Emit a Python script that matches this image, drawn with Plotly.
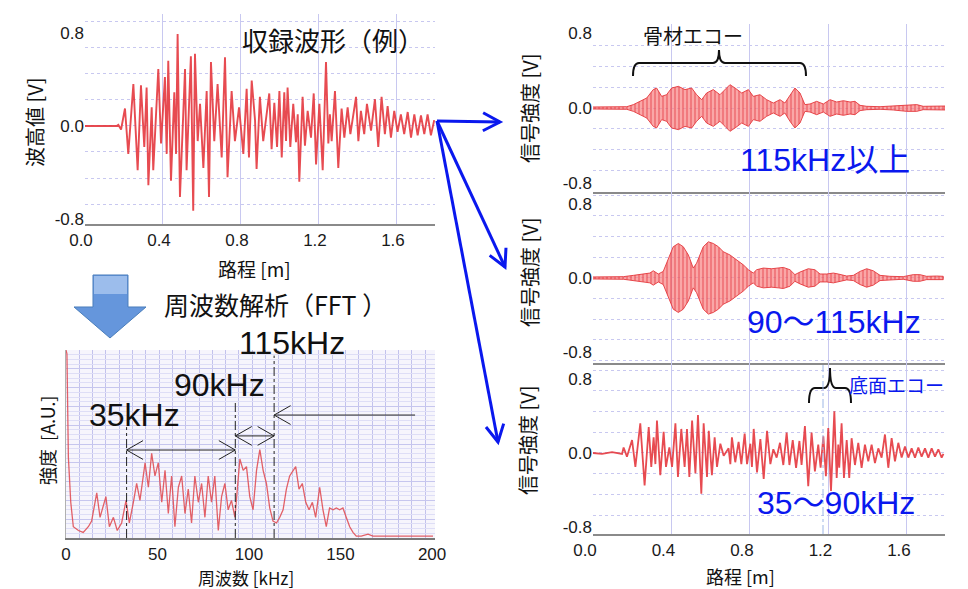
import math
import plotly.graph_objects as go

# ---------------- data ----------------
# recorded waveform (extrema), path [m] / amplitude [V]
rec_path_m = [0.0, 0.162, 0.171, 0.185, 0.205, 0.222, 0.248, 0.270, 0.287, 0.304, 0.316, 0.325, 0.342, 0.350,
              0.376, 0.390, 0.410, 0.419, 0.427, 0.441, 0.458, 0.467, 0.475, 0.487, 0.513, 0.521, 0.543, 0.555,
              0.564, 0.578, 0.590, 0.607, 0.624, 0.636, 0.646, 0.663, 0.680, 0.701, 0.718, 0.731, 0.752, 0.769,
              0.790, 0.812, 0.829, 0.841, 0.855, 0.872, 0.880, 0.897, 0.914, 0.945, 0.957, 0.971, 0.985, 0.997,
              1.009, 1.022, 1.031, 1.039, 1.053, 1.068, 1.082, 1.091, 1.099, 1.116, 1.128, 1.142, 1.159, 1.173,
              1.185, 1.202, 1.219, 1.236, 1.248, 1.256, 1.265, 1.282, 1.299, 1.316, 1.330, 1.347, 1.361, 1.390,
              1.402, 1.415, 1.432, 1.446, 1.467, 1.487, 1.504, 1.521, 1.538, 1.552, 1.569, 1.586, 1.603, 1.620,
              1.637, 1.655, 1.672, 1.689, 1.706, 1.723, 1.740, 1.757, 1.774, 1.791]
rec_amp_v = [0.0, 0.0, 0.01, -0.03, 0.15, -0.24, 0.36, -0.38, 0.35, -0.18, 0.33, -0.51, 0.16, -0.38,
             0.49, -0.15, 0.42, -0.24, 0.56, -0.47, 0.29, -0.24, 0.79, -0.61, 0.49, -0.38, 0.60, -0.73,
             0.62, -0.13, 0.19, -0.36, 0.30, -0.61, 0.55, -0.13, 0.36, -0.27, 0.59, -0.44, 0.30, -0.13,
             0.16, -0.24, 0.32, -0.27, 0.39, 0.05, -0.37, 0.25, -0.13, 0.28, -0.20, 0.20, -0.18, 0.30,
             -0.27, 0.29, -0.13, 0.33, -0.18, 0.19, -0.14, 0.10, -0.48, 0.25, -0.17, 0.13, -0.10, 0.28,
             -0.33, 0.19, -0.38, 0.55, -0.15, 0.10, -0.13, 0.30, -0.36, 0.15, -0.10, 0.16, -0.07, 0.25,
             -0.13, 0.13, -0.07, 0.19, -0.04, 0.23, -0.18, 0.25, -0.07, 0.17, -0.10, 0.13, -0.05, 0.10,
             -0.07, 0.12, -0.10, 0.10, -0.08, 0.09, -0.07, 0.10, -0.08, 0.05]

# FFT spectrum, frequency [kHz] / intensity [A.U.]
fft_khz = [0.0, 0.5, 1.3, 2.6, 4.0, 6.8, 9.4, 12.2, 14.0, 16.8, 18.6, 21.8, 23.7, 25.9, 28.0, 30.4, 32.8, 34.6,
           36.8, 38.6, 40.4, 43.2, 45.0, 46.8, 48.6, 50.4, 52.3, 54.1, 55.9, 57.7, 59.5, 61.4, 63.2, 65.0, 66.8,
           68.6, 70.4, 72.3, 74.1, 75.9, 77.7, 79.5, 81.3, 83.2, 85.0, 86.8, 88.6, 90.4, 92.3, 95.0, 96.8, 98.6,
           100.4, 102.2, 104.1, 105.9, 107.7, 109.5, 111.3, 113.1, 115.0, 116.8, 118.6, 120.4, 122.2, 124.0,
           125.5, 127.3, 129.1, 131.0, 132.8, 134.6, 136.4, 138.6, 140.4, 142.2, 144.0, 145.9, 147.7, 149.5,
           151.3, 153.1, 155.0, 156.8, 158.6, 161.3, 165.0, 167.7, 182.3, 200.5]
fft_amp = [1.0, 0.98, 0.43, 0.19, 0.06, 0.04, 0.03, 0.06, 0.09, 0.24, 0.11, 0.22, 0.06, 0.11, 0.04, 0.08, 0.20, 0.08,
           0.19, 0.29, 0.20, 0.40, 0.27, 0.45, 0.33, 0.40, 0.19, 0.36, 0.13, 0.33, 0.06, 0.27, 0.33, 0.13, 0.26,
           0.08, 0.33, 0.19, 0.29, 0.11, 0.33, 0.19, 0.33, 0.04, 0.22, 0.29, 0.15, 0.20, 0.11, 0.42, 0.36, 0.38,
           0.22, 0.15, 0.36, 0.47, 0.36, 0.29, 0.16, 0.09, 0.08, 0.11, 0.15, 0.26, 0.33, 0.36,
           0.38, 0.26, 0.29, 0.19, 0.15, 0.19, 0.11, 0.27, 0.15, 0.06, 0.16, 0.15, 0.16, 0.15,
           0.16, 0.11, 0.06, 0.03, 0.01, 0.01, 0.02, 0.01, 0.01, 0.01]
band_edges_khz = [33.1, 92.5, 113.7]
band_labels = ["35kHz", "90kHz", "115kHz"]

# filtered signal envelopes (>=115 kHz and 90-115 kHz), path [m] / envelope [V]
env_hi_m = [0.0, 0.172, 0.206, 0.240, 0.274, 0.307, 0.324, 0.350, 0.375, 0.401, 0.435, 0.469, 0.503, 0.528, 0.554,
            0.579, 0.613, 0.647, 0.673, 0.698, 0.724, 0.758, 0.792, 0.817, 0.851, 0.885, 0.919, 0.953, 0.978, 1.004,
            1.029, 1.055, 1.080, 1.106, 1.140, 1.174, 1.208, 1.242, 1.276, 1.310, 1.335, 1.361, 1.395, 1.463, 1.530,
            1.599, 1.650, 1.683, 1.734, 1.794]
env_hi_v = [0.011, 0.014, 0.036, 0.071, 0.107, 0.196, 0.213, 0.124, 0.142, 0.213, 0.231, 0.196, 0.213, 0.142, 0.089,
            0.160, 0.196, 0.142, 0.196, 0.249, 0.213, 0.160, 0.196, 0.124, 0.142, 0.089, 0.053, 0.089, 0.053, 0.142,
            0.213, 0.160, 0.036, 0.043, 0.071, 0.043, 0.089, 0.064, 0.078, 0.064, 0.071, 0.028, 0.018, 0.014, 0.021,
            0.036, 0.036, 0.018, 0.018, 0.021]
env_mid_m = [0.0, 0.155, 0.206, 0.290, 0.307, 0.333, 0.358, 0.384, 0.409, 0.435, 0.460, 0.486, 0.511, 0.528, 0.562,
             0.588, 0.613, 0.639, 0.664, 0.698, 0.732, 0.766, 0.792, 0.817, 0.834, 0.868, 0.911, 0.944, 0.970, 1.004,
             1.029, 1.055, 1.097, 1.131, 1.157, 1.191, 1.225, 1.250, 1.293, 1.327, 1.361, 1.395, 1.428, 1.463, 1.513,
             1.581, 1.632, 1.666, 1.700, 1.752, 1.785]
env_mid_v = [0.011, 0.014, 0.028, 0.053, 0.078, 0.043, 0.071, 0.213, 0.338, 0.373, 0.338, 0.249, 0.107, 0.160, 0.338,
             0.391, 0.373, 0.338, 0.284, 0.249, 0.196, 0.142, 0.089, 0.053, 0.089, 0.107, 0.100, 0.107, 0.114, 0.089,
             0.036, 0.064, 0.100, 0.089, 0.043, 0.043, 0.053, 0.043, 0.021, 0.028, 0.071, 0.100, 0.078, 0.028, 0.018,
             0.014, 0.036, 0.036, 0.018, 0.021, 0.018]

# filtered signal 35-90 kHz (extrema), path [m] / amplitude [V]
low_path_m = [0.0, 0.046, 0.097, 0.148, 0.156, 0.173, 0.199, 0.216, 0.241, 0.263, 0.284, 0.297, 0.309, 0.318, 0.326,
              0.343, 0.360, 0.372, 0.389, 0.403, 0.420, 0.433, 0.450, 0.467, 0.479, 0.491, 0.505, 0.522, 0.535, 0.552,
              0.564, 0.581, 0.590, 0.606, 0.620, 0.632, 0.649, 0.666, 0.691, 0.700, 0.708, 0.725, 0.742, 0.756, 0.773,
              0.785, 0.802, 0.810, 0.819, 0.836, 0.853, 0.870, 0.887, 0.904, 0.919, 0.936, 0.953, 0.970, 0.987, 1.001,
              1.018, 1.035, 1.052, 1.063, 1.080, 1.097, 1.114, 1.131, 1.148, 1.160, 1.174, 1.187, 1.199, 1.213, 1.230,
              1.242, 1.250, 1.255, 1.267, 1.279, 1.293, 1.306, 1.318, 1.335, 1.352, 1.369, 1.386, 1.403, 1.420, 1.437,
              1.454, 1.471, 1.488, 1.505, 1.522, 1.539, 1.556, 1.573, 1.590, 1.607, 1.624, 1.641, 1.658, 1.675, 1.692,
              1.709, 1.726, 1.743, 1.760, 1.777, 1.786]
low_amp_v = [0.0, -0.01, 0.01, -0.01, 0.06, -0.04, 0.14, -0.15, 0.32, -0.35, 0.28, -0.15, 0.17, -0.12, 0.35,
             -0.24, 0.23, -0.15, 0.06, -0.15, 0.32, -0.26, 0.26, -0.15, 0.26, -0.26, 0.35, -0.22, 0.41, -0.44,
             0.32, -0.26, 0.24, -0.24, 0.17, -0.15, 0.10, -0.03, 0.05, -0.12, 0.17, -0.10, 0.12, -0.12, 0.21,
             -0.12, 0.10, -0.15, 0.26, -0.21, 0.15, -0.28, 0.24, -0.12, 0.04, -0.05, 0.11, -0.13, 0.22, -0.13,
             0.14, -0.16, 0.13, -0.13, 0.29, -0.36, 0.22, -0.20, 0.09, -0.16, 0.18, -0.25, 0.27, -0.41, 0.45,
             -0.27, 0.09, -0.16, 0.32, -0.27, 0.14, -0.27, 0.16, -0.13, 0.11, -0.16, 0.09, -0.09, 0.09, -0.11,
             0.05, -0.05, 0.20, -0.16, 0.16, -0.09, 0.11, -0.05, 0.07, -0.05, 0.05, -0.05, 0.06, -0.04, 0.05,
             -0.05, 0.05, -0.04, 0.04, -0.05, -0.01]

path_ticks = [0.0, 0.4, 0.8, 1.2, 1.6]
path_ticktext = ["0.0", "0.4", "0.8", "1.2", "1.6"]
volt_ticks = [-0.8, 0.0, 0.8]
volt_ticktext = ["-0.8", "0.0", "0.8"]
freq_ticks = [0, 50, 100, 150, 200]

# ---------------- helpers ----------------
W, H = 968, 589
JP = "Noto Sans CJK JP"
LAT = "Liberation Sans, Noto Sans CJK JP"


def PX(x):
    return x / W


def PY(y):
    return 1 - y / H


def pth(points, close=False):
    s = "M " + " L ".join(f"{PX(x):.5f},{PY(y):.5f}" for x, y in points)
    return s + (" Z" if close else "")


fig = go.Figure()

RED = "rgba(228,55,62,0.9)"
fig.add_trace(go.Scatter(x=rec_path_m, y=rec_amp_v, xaxis="x", yaxis="y", mode="lines",
                         line=dict(color=RED, width=1.9), hoverinfo="skip"))
fig.add_trace(go.Scatter(x=fft_khz, y=fft_amp, xaxis="x2", yaxis="y2", mode="lines",
                         line=dict(color="rgba(224,80,86,0.9)", width=1.3), hoverinfo="skip"))


def env_trace(xm, v, xa, ya):
    xs = list(xm) + list(xm)[::-1]
    ys = list(v) + [-a for a in list(v)[::-1]]
    return go.Scatter(x=xs, y=ys, xaxis=xa, yaxis=ya, mode="lines", fill="toself",
                      fillcolor="rgba(245,110,110,0.75)",
                      fillpattern=dict(shape="|", fgcolor="rgba(225,35,45,0.85)",
                                       bgcolor="rgba(248,130,130,0.7)", size=4, solidity=0.4),
                      line=dict(color="rgba(228,55,60,0.9)", width=1), hoverinfo="skip")


fig.add_trace(env_trace(env_hi_m, env_hi_v, "x3", "y3"))
fig.add_trace(env_trace(env_mid_m, env_mid_v, "x4", "y4"))
fig.add_trace(go.Scatter(x=low_path_m, y=low_amp_v, xaxis="x5", yaxis="y5", mode="lines",
                         line=dict(color=RED, width=1.8), hoverinfo="skip"))

GRID = "#c8c8f0"
tickfont = dict(family=LAT, size=17, color="#1a1a1a")


def path_axis(x0, x1, anchor, rng, labels=True, shift=0):
    d = dict(domain=[PX(x0), PX(x1)], range=rng, anchor=anchor, tickmode="array",
             tickvals=path_ticks, ticktext=path_ticktext, showticklabels=labels,
             showgrid=True, gridcolor=GRID, gridwidth=1, zeroline=False,
             showline=True, linecolor="#8a8a8a", linewidth=2, ticks="", tickfont=tickfont)
    if shift:
        d["ticklabelshift"] = shift
    return d


def volt_axis(top, bottom, anchor, rng):
    return dict(domain=[PY(bottom), PY(top)], range=rng, anchor=anchor, tickmode="array",
                tickvals=volt_ticks, ticktext=volt_ticktext, showgrid=False, zeroline=False,
                showline=False, ticks="", tickfont=tickfont,
                minor=dict(tick0=0, dtick=0.2237, showgrid=True, gridcolor=GRID, griddash="dot", ticks=""))


layout = dict(
    width=W, height=H, margin=dict(l=0, r=0, t=0, b=0, autoexpand=False),
    paper_bgcolor="white", plot_bgcolor="white", showlegend=False,
    font=dict(family=JP, color="#111"),
    xaxis=path_axis(85, 435, "y", [0, 1.795], shift=-4),
    yaxis=volt_axis(14, 224, "x", [-0.843, 0.963]),
    xaxis2=dict(domain=[PX(66), PX(435)], range=[0, 201.6], anchor="y2", tickmode="array",
                tickvals=freq_ticks, showgrid=False, zeroline=False, showline=True,
                linecolor="#7a7a7a", linewidth=2, ticks="", tickfont=dict(family=LAT, size=17, color="#1a1a1a"),
                minor=dict(tick0=0, dtick=7.27, showgrid=True, gridcolor="#c2c2ec", ticks="")),
    yaxis2=dict(domain=[PY(538), PY(350)], range=[0, 1.0], anchor="x2", showticklabels=False,
                dtick=0.1, showgrid=True, gridcolor="#c6c6ee", zeroline=False, showline=True,
                linecolor="#b0b0b0", linewidth=1, ticks="",
                minor=dict(dtick=0.025, showgrid=True, gridcolor="#dedef6", ticks="")),
    xaxis3=path_axis(593, 945, "y3", [0, 1.794], labels=False),
    yaxis3=volt_axis(24, 192, "x3", [-0.896, 0.896]),
    xaxis4=path_axis(593, 945, "y4", [0, 1.794], labels=False),
    yaxis4=volt_axis(192, 363, "x4", [-0.92, 0.93]),
    xaxis5=path_axis(593, 945, "y5", [0, 1.794], shift=-8),
    yaxis5=volt_axis(363, 534, "x5", [-0.876, 0.973]),
)
fig.update_layout(**layout)

shapes = []
# tinted background of the spectrum plot
shapes.append(dict(type="rect", xref="x2 domain", yref="y2 domain", x0=0, x1=1, y0=0, y1=1,
                   fillcolor="#f6f5fc", line=dict(width=0), layer="below"))

# band boundary dash-dot lines
band_tops = [0.59, 0.73, 0.97]
for xk, yt in zip(band_edges_khz, band_tops):
    shapes.append(dict(type="line", xref="x2", yref="y2", x0=xk, x1=xk, y0=0, y1=yt,
                       line=dict(color="#222", width=1, dash="dashdot")))


def khz_head(xk, ya, direction):
    # open V arrow head in spectrum data coords, direction=-1 points left, +1 points right
    dx, dy = 9.0, 0.05
    return dict(type="path", xref="x2", yref="y2",
                path=f"M {xk - direction * dx},{ya + dy} L {xk},{ya} L {xk - direction * dx},{ya - dy}",
                line=dict(color="#222", width=1))


arrow_rows = [(band_edges_khz[0], band_edges_khz[1], 0.468, True),
              (band_edges_khz[1], band_edges_khz[2], 0.543, True),
              (band_edges_khz[2], 190.7, 0.654, False)]
for xa, xb, ya, both in arrow_rows:
    shapes.append(dict(type="line", xref="x2", yref="y2", x0=xa, x1=xb, y0=ya, y1=ya,
                       line=dict(color="#222", width=1)))
    shapes.append(khz_head(xa, ya, -1))
    if both:
        shapes.append(khz_head(xb, ya, 1))

# blue block arrow (FFT step)
shapes.append(dict(type="path", xref="paper", yref="paper",
                   path=pth([(93, 275), (128, 275), (128, 307), (146, 307), (110, 338), (74, 307), (93, 307)], True),
                   fillcolor="#6596dc", line=dict(color="#4a7ebb", width=1)))
shapes.append(dict(type="path", xref="paper", yref="paper",
                   path=pth([(94, 276), (127, 276), (127, 294), (94, 294)], True),
                   fillcolor="rgba(175,202,242,0.75)", line=dict(width=0)))

# blue arrows to the filtered signals
BLUE = "#0a18ee"
start = (437, 121)
for tip in [(500, 122), (505, 267), (498, 442)]:
    x0, y0 = start
    x1, y1 = tip
    n = math.hypot(x1 - x0, y1 - y0)
    ux, uy = (x1 - x0) / n, (y1 - y0) / n
    px_, py_ = -uy, ux
    L, Wd = 17, 9
    a1 = (x1 - L * ux + Wd * px_, y1 - L * uy + Wd * py_)
    a2 = (x1 - L * ux - Wd * px_, y1 - L * uy - Wd * py_)
    shapes.append(dict(type="path", xref="paper", yref="paper", path=pth([start, tip]),
                       line=dict(color=BLUE, width=3)))
    shapes.append(dict(type="path", xref="paper", yref="paper", path=pth([a1, tip, a2]),
                       line=dict(color=BLUE, width=3)))


def brace(xl, xr, xc, y_end, y_bar, y_peak):
    r = 6
    pts = (f"M {PX(xl):.5f},{PY(y_end):.5f} Q {PX(xl):.5f},{PY(y_bar):.5f} {PX(xl + r):.5f},{PY(y_bar):.5f} "
           f"L {PX(xc - r):.5f},{PY(y_bar):.5f} Q {PX(xc):.5f},{PY(y_bar):.5f} {PX(xc):.5f},{PY(y_peak):.5f} "
           f"Q {PX(xc):.5f},{PY(y_bar):.5f} {PX(xc + r):.5f},{PY(y_bar):.5f} "
           f"L {PX(xr - r):.5f},{PY(y_bar):.5f} Q {PX(xr):.5f},{PY(y_bar):.5f} {PX(xr):.5f},{PY(y_end):.5f}")
    return dict(type="path", xref="paper", yref="paper", path=pts, line=dict(color="#111", width=2))


shapes.append(brace(633, 806, 719, 76, 63, 50))
shapes.append(brace(809, 851, 830, 403, 388, 368))
# dash-dot marker line near the bottom echo
shapes.append(dict(type="line", xref="paper", yref="paper", x0=PX(823), x1=PX(823), y0=PY(534), y1=PY(365),
                   line=dict(color="#9db6e6", width=1, dash="dashdot")))

fig.update_layout(shapes=shapes)

ann = []


def text(t, x, y, size, color="#111", family=JP, xanchor="center", angle=0):
    ann.append(dict(text=t, x=PX(x), y=PY(y), xref="paper", yref="paper", showarrow=False,
                    xanchor=xanchor, yanchor="middle", textangle=angle,
                    font=dict(family=family, size=size, color=color)))


text("収録波形（例）", 240, 40, 26, xanchor="left")
text("周波数解析（FFT ）", 162, 304, 25, xanchor="left")
text(band_labels[2], 292, 343, 32, family=LAT)
text(band_labels[1], 219, 385, 32, family=LAT)
text(band_labels[0], 134, 415, 32, family=LAT)
text("骨材エコー", 693, 35, 20)
text("底面エコー", 847, 385, 19, color=BLUE, xanchor="left")
text("115kHz以上", 738, 160, 32, color=BLUE, family=LAT, xanchor="left")
text("90～115kHz", 745, 322, 32, color=BLUE, family=LAT, xanchor="left")
text("35～90kHz", 755, 503, 32, color=BLUE, family=LAT, xanchor="left")

text("波高値 [V]", 35, 122, 20, angle=-90)
text("路程 [m]", 255, 268, 19)
text("強度  [A.U.]", 47, 441, 18, angle=-90)
text("周波数 [kHz]", 246, 577, 17)
text("信号強度 [V]", 530, 108, 20, angle=-90)
text("信号強度 [V]", 530, 272, 20, angle=-90)
text("信号強度 [V]", 527, 440, 20, angle=-90)
text("路程 [m]", 740, 576, 18)

fig.update_layout(annotations=ann)
fig.write_html("out.html", config={"displayModeBar": False},
               post_script="document.body.style.margin='0';document.body.style.overflow='hidden';")
